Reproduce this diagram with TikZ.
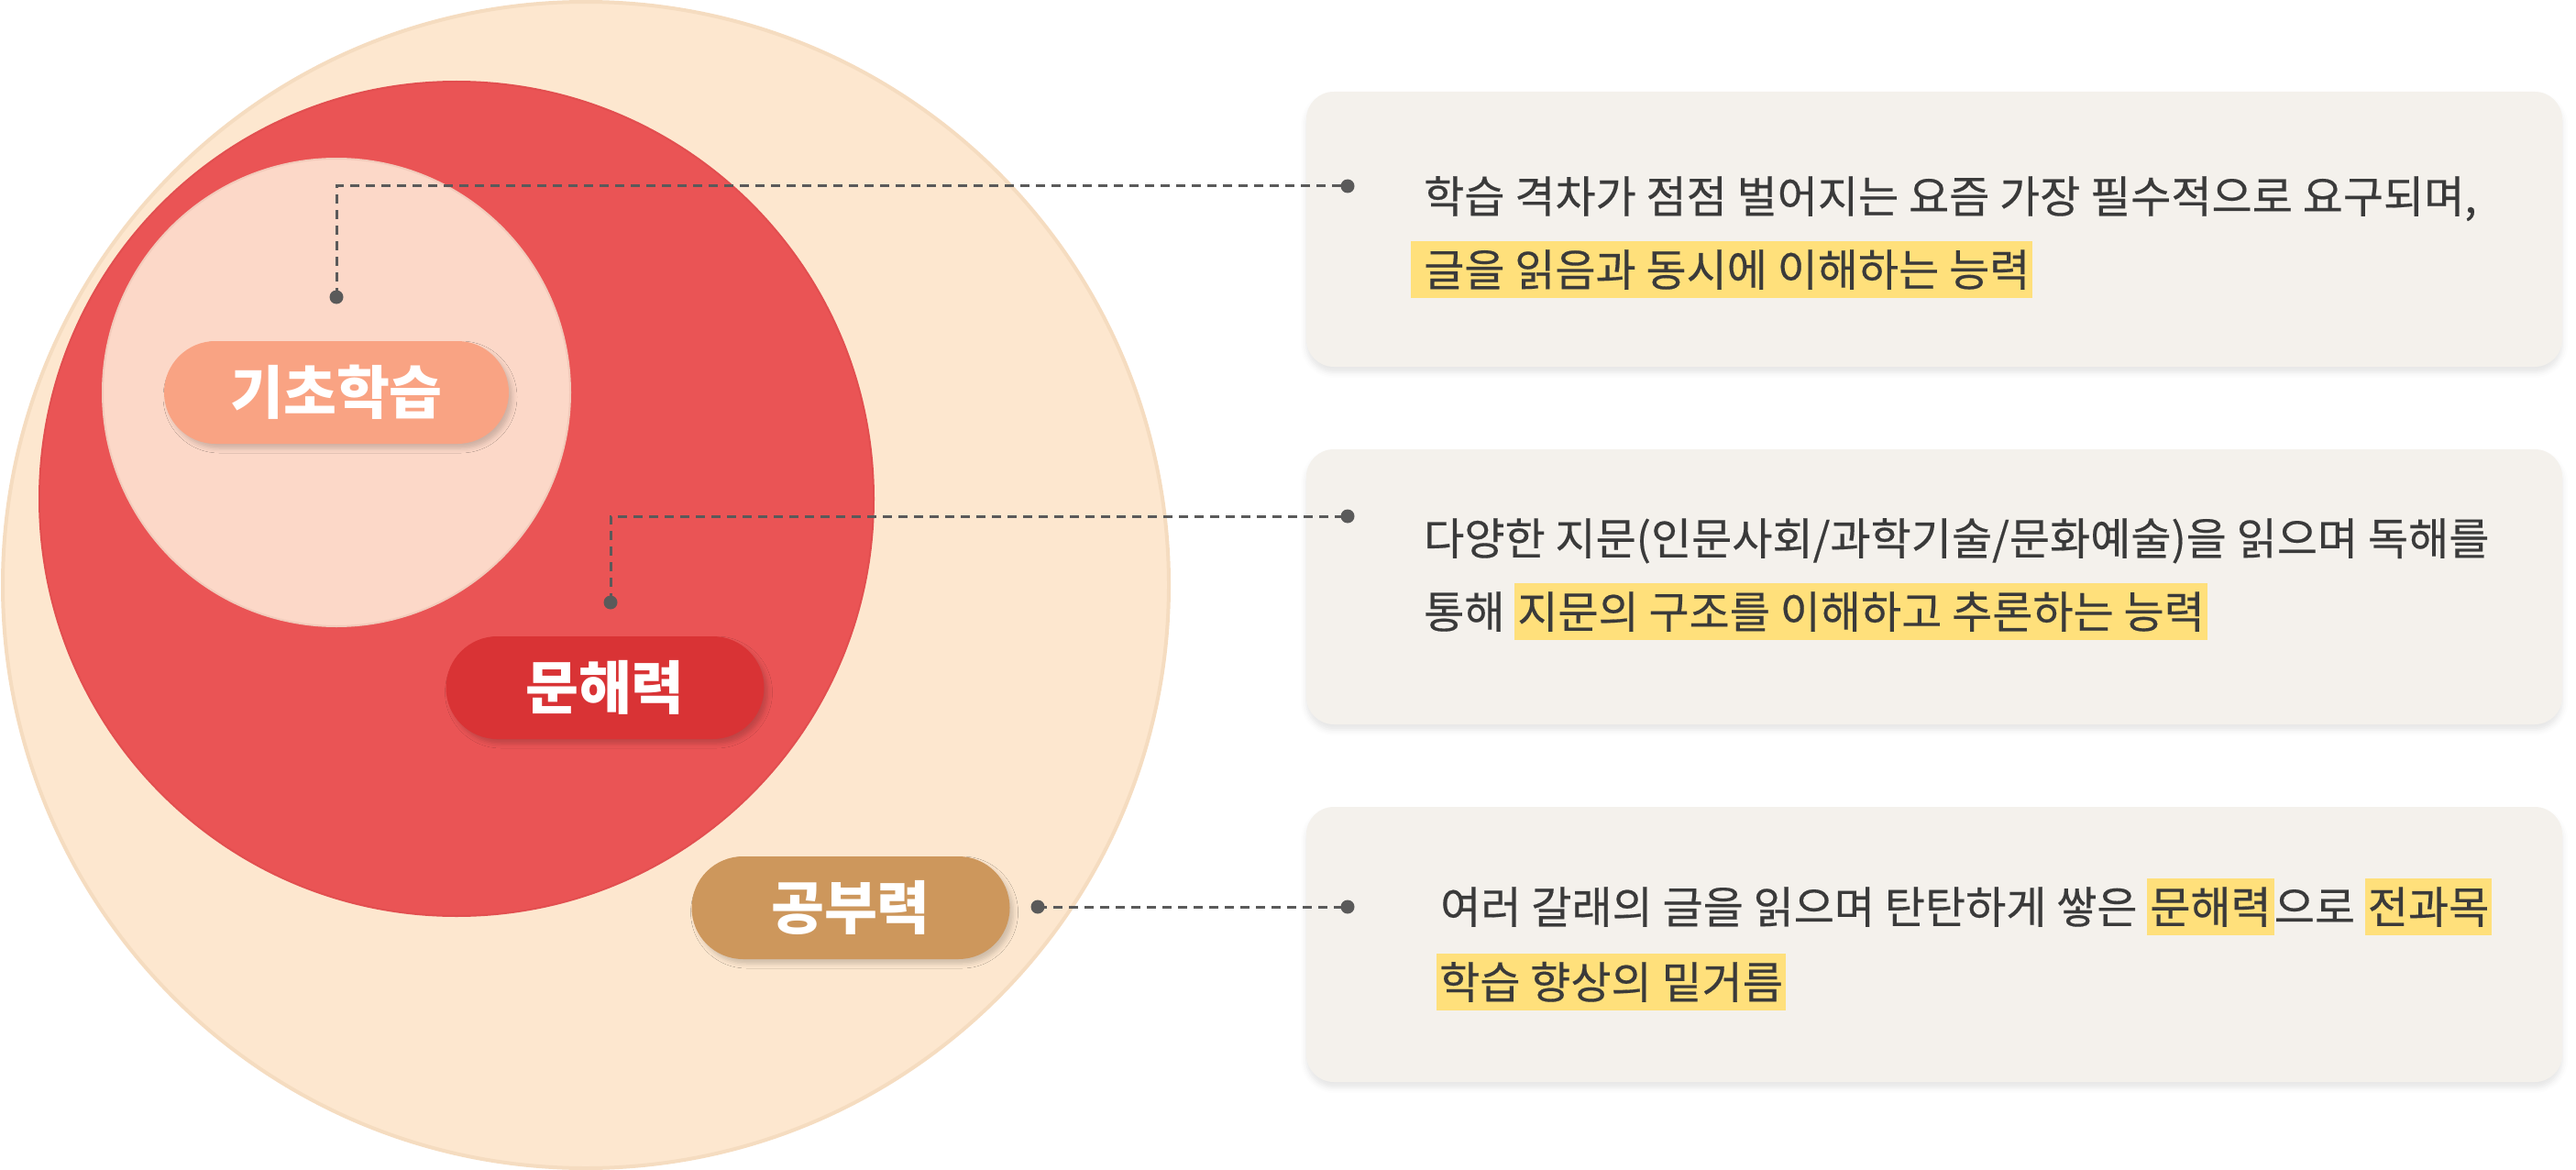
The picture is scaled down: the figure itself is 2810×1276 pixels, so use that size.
\documentclass[tikz,border=0pt]{standalone}
\usepackage{fontspec}
\setmainfont{Noto Sans CJK KR}
\newfontfamily\boxfont{Noto Sans CJK KR}[FakeBold=0.35]
\usetikzlibrary{shadows.blur}
\definecolor{outerc}{HTML}{FDE7CF}
\definecolor{outeredge}{HTML}{F5DCC0}
\definecolor{redc}{HTML}{EA5455}
\definecolor{rededge}{HTML}{E24F50}
\definecolor{palec}{HTML}{FCD8C8}
\definecolor{paleedge}{HTML}{F2CBBB}
\definecolor{pillA}{HTML}{F9A383}
\definecolor{pillB}{HTML}{D93335}
\definecolor{pillC}{HTML}{CD975C}
\definecolor{boxc}{HTML}{F4F1EC}
\definecolor{txt}{HTML}{3A3A3A}
\definecolor{hly}{HTML}{FFE07B}
\definecolor{linec}{HTML}{5A5A5A}
\newcommand\hlt[2][3pt]{{\setlength{\fboxsep}{0pt}\colorbox{hly}{\rule[-13pt]{0pt}{62pt}\hspace{#1}#2\hspace{3pt}}}}
\tikzset{
  pill/.style={rectangle, rounded corners=56pt, minimum width=#1, minimum height=112pt, inner sep=0pt, text=white,
    font=\fontsize{63}{65}\selectfont\bfseries,
    blur shadow={shadow xshift=4pt, shadow yshift=-5pt, shadow blur radius=5pt, shadow opacity=18}},
  card/.style={rectangle, rounded corners=30pt, fill=boxc, minimum width=1370pt, minimum height=300pt, inner sep=0pt,
    blur shadow={shadow xshift=0pt, shadow yshift=-6pt, shadow blur radius=6pt, shadow opacity=10}},
  dotn/.style={circle, fill=linec, minimum size=15pt, inner sep=0pt},
  conn/.style={draw=linec, line width=3pt, dash pattern=on 10pt off 7pt},
  txtline/.style={anchor=base west, inner sep=0pt, text=txt, font=\boxfont\fontsize{48}{80}\selectfont},
  ring/.style={circle, inner sep=0pt, minimum size=#1}
}
\begin{document}
\begin{tikzpicture}[x=1pt,y=-1pt]
\useasboundingbox (0,0) rectangle (2810,1276);
% circles
\node[ring=1272pt, fill=outerc, draw=outeredge, line width=4pt] (outer) at (639,638) {};
\node[ring=910pt, fill=redc, draw=rededge, line width=2pt] (red) at (498,544) {};
\node[ring=510pt, fill=palec, draw=paleedge, line width=2pt] (pale) at (367,428) {};
% pills
\node[pill=376pt, fill=pillA] (pA) at (367,428) {기초학습};
\node[pill=347pt, fill=pillB] (pB) at (660,750) {문해력};
\node[pill=347pt, fill=pillC] (pC) at (928,990) {공부력};
% cards
\node[card] (c1) at (2110,250) {};
\node[card] (c2) at (2110,640) {};
\node[card] (c3) at (2110,1030) {};
% texts
\node[txtline] (t11) at (1553,232) {학습 격차가 점점 벌어지는 요즘 가장 필수적으로 요구되며,};
\node[txtline] (t12) at (1539,312) {\hlt[14pt]{글을 읽음과 동시에 이해하는 능력}};
\node[txtline] (t21) at (1553,605) {다양한 지문(인문사회/과학기술/문화예술)을 읽으며 독해를};
\node[txtline] (t22) at (1553,685) {통해 \hlt{지문의 구조를 이해하고 추론하는 능력}};
\node[txtline] (t31) at (1571,1007) {여러 갈래의 글을 읽으며 탄탄하게 쌓은 \hlt{문해력}으로 \hlt{전과목}};
\node[txtline] (t32) at (1567,1089) {\hlt{학습 향상의 밑거름}};
% connectors
\node[dotn] (a1) at (367,324) {};
\node[dotn] (a2) at (1470,203) {};
\coordinate (k1) at (367,203);
\node[dotn] (b1) at (666,657) {};
\node[dotn] (b2) at (1470,563) {};
\coordinate (k2) at (666,563);
\node[dotn] (e1) at (1132,989) {};
\node[dotn] (e2) at (1470,989) {};
\draw[conn] (a1.center) -- (k1) -- (a2.center);
\draw[conn] (b1.center) -- (k2) -- (b2.center);
\draw[conn] (e1.center) -- (e2.center);
\end{tikzpicture}
\end{document}
